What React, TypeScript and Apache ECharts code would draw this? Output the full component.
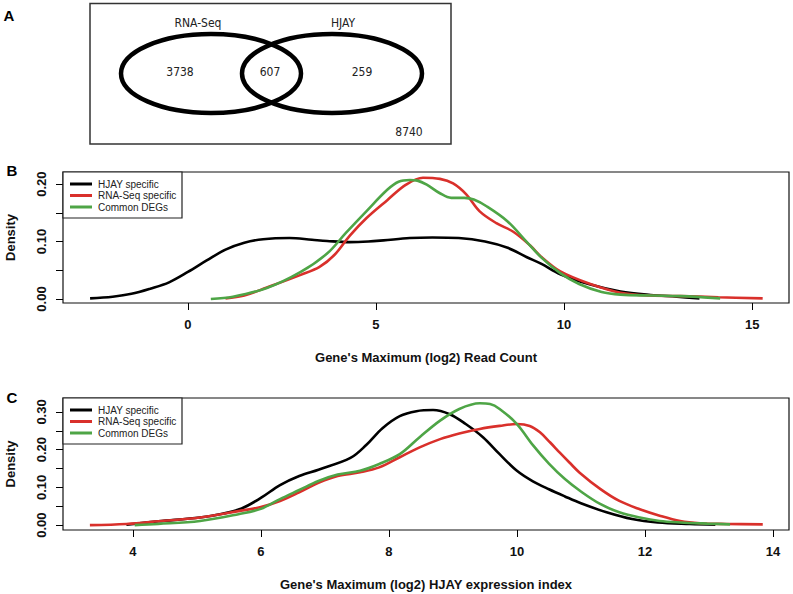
import React, { useEffect, useRef } from "react";
import * as echarts from "echarts";

// Venn counts
const vennSetNames = ["RNA-Seq", "HJAY"];
const vennRnaOnly = 3738;
const vennCommon = 607;
const vennHjayOnly = 259;
const vennNeither = 8740;

const seriesNames = ["HJAY specific", "RNA-Seq specific", "Common DEGs"];

// Panel B: density of gene's maximum (log2) read count
const hjayReadCount = [
  [-2.6, 0.001], [-2.0, 0.004], [-1.5, 0.009], [-1.0, 0.018], [-0.5, 0.029],
  [0.0, 0.047], [0.5, 0.067], [1.0, 0.086], [1.5, 0.098], [2.0, 0.104],
  [2.7, 0.106], [3.3, 0.103], [3.7, 0.101], [4.3, 0.099], [4.8, 0.1],
  [5.2, 0.102], [5.9, 0.106], [6.5, 0.107], [7.2, 0.106], [7.9, 0.1],
  [8.5, 0.089], [9.0, 0.073], [9.4, 0.061], [9.9, 0.043], [10.7, 0.025],
  [11.5, 0.013], [12.3, 0.007], [13.0, 0.004], [13.6, 0.001],
];
const rnaseqReadCount = [
  [1.0, 0.001], [1.5, 0.006], [2.1, 0.02], [3.0, 0.042], [3.5, 0.056],
  [3.9, 0.077], [4.3, 0.11], [4.75, 0.141], [5.3, 0.172], [5.8, 0.199],
  [6.25, 0.211], [6.7, 0.209], [7.05, 0.201], [7.4, 0.182], [7.75, 0.153],
  [8.2, 0.132], [8.65, 0.117], [9.1, 0.093], [9.4, 0.073], [9.9, 0.048],
  [10.7, 0.026], [11.5, 0.011], [12.3, 0.006], [13.1, 0.005], [14.1, 0.003],
  [15.28, 0.001],
];
const commonReadCount = [
  [0.61, 0.0], [1.2, 0.004], [2.1, 0.019], [3.0, 0.047], [3.7, 0.079],
  [4.2, 0.115], [4.75, 0.153], [5.3, 0.19], [5.6, 0.204], [5.9, 0.207],
  [6.1, 0.206], [6.35, 0.199], [6.7, 0.184], [7.0, 0.176], [7.35, 0.176],
  [7.6, 0.173], [7.95, 0.161], [8.5, 0.135], [9.0, 0.1], [9.4, 0.072],
  [9.9, 0.045], [10.4, 0.026], [11.0, 0.012], [11.5, 0.0075], [12.3, 0.006],
  [13.1, 0.005], [14.15, 0.001],
];

// Panel C: density of gene's maximum (log2) HJAY expression index
const hjayExpr = [
  [3.9, 0.001], [4.4, 0.01], [5.05, 0.02], [5.4, 0.03], [5.7, 0.044],
  [6.0, 0.072], [6.3, 0.106], [6.6, 0.13], [6.9, 0.147], [7.4, 0.178],
  [7.65, 0.213], [7.9, 0.257], [8.17, 0.289], [8.43, 0.302], [8.69, 0.305],
  [8.95, 0.294], [9.2, 0.268], [9.47, 0.233], [9.73, 0.188], [10.0, 0.144],
  [10.25, 0.116], [10.5, 0.095], [10.75, 0.076], [11.0, 0.058], [11.4, 0.034],
  [11.8, 0.016], [12.2, 0.007], [12.7, 0.003], [13.1, 0.001],
];
const rnaseqExpr = [
  [3.33, 0.0], [3.9, 0.003], [4.4, 0.01], [5.05, 0.02], [5.65, 0.037],
  [6.0, 0.048], [6.3, 0.064], [6.6, 0.087], [6.9, 0.112], [7.2, 0.13],
  [7.55, 0.14], [7.85, 0.153], [8.17, 0.18], [8.48, 0.206], [8.8, 0.228],
  [9.1, 0.243], [9.42, 0.255], [9.73, 0.263], [10.0, 0.268], [10.2, 0.263],
  [10.36, 0.246], [10.52, 0.219], [10.67, 0.192], [10.82, 0.166], [10.98, 0.139],
  [11.3, 0.096], [11.6, 0.064], [11.92, 0.042], [12.23, 0.025], [12.55, 0.011],
  [12.86, 0.005], [13.28, 0.003], [13.84, 0.002],
];
const commonExpr = [
  [4.03, 0.0], [4.4, 0.003], [5.05, 0.011], [5.65, 0.029], [6.0, 0.043],
  [6.3, 0.069], [6.6, 0.093], [6.9, 0.117], [7.2, 0.134], [7.55, 0.144],
  [7.85, 0.162], [8.17, 0.188], [8.48, 0.233], [8.8, 0.277], [9.1, 0.308],
  [9.42, 0.323], [9.58, 0.321], [9.73, 0.308], [10.0, 0.268], [10.25, 0.212],
  [10.5, 0.163], [10.75, 0.122], [11.0, 0.089], [11.3, 0.056], [11.6, 0.034],
  [11.92, 0.02], [12.23, 0.011], [12.55, 0.007], [12.97, 0.004], [13.33, 0.002],
];

const xTicksB = [0, 5, 10, 15];
const yTicksB = [0, 0.05, 0.1, 0.15, 0.2];
const yLabelsB = [0, 0.1, 0.2];
const xTicksC = [4, 6, 8, 10, 12, 14];
const yTicksC = [0, 0.05, 0.1, 0.15, 0.2, 0.25, 0.3];
const yLabelsC = [0, 0.1, 0.2, 0.3];

const xTitleB = "Gene's Maximum (log2) Read Count";
const xTitleC = "Gene's Maximum (log2) HJAY expression index";
const yTitle = "Density";

const colors = ["#000000", "#d9302b", "#4ea546"];
const FONT = "'Liberation Sans', Arial, Helvetica, sans-serif";
const NARROW = "'Liberation Sans Narrow', 'DejaVu Sans Condensed', 'Liberation Sans', sans-serif";

export default function App() {
  const ref = useRef<HTMLDivElement>(null);

  useEffect(() => {
    if (!ref.current) return;
    const chart = echarts.init(ref.current, null, { renderer: "svg" });

    const grids = [
      { left: 63, top: 172, width: 726, height: 131 },
      { left: 63, top: 398, width: 726, height: 132 },
    ];

    const xAxisBase = (gi: number, min: number, max: number, ticks: number[]) => ({
      type: "value",
      gridIndex: gi,
      min,
      max,
      position: "bottom",
      axisLine: { show: false, onZero: false },
      splitLine: { show: false },
      axisTick: {
        show: true,
        customValues: ticks,
        length: 7,
        lineStyle: { color: "#000", width: 1 },
      },
      axisLabel: {
        customValues: ticks,
        margin: 15,
        fontFamily: FONT,
        fontSize: 13,
        fontWeight: "bold",
        color: "#111",
        showMinLabel: true,
        showMaxLabel: true,
      },
    });
    const yAxisBase = (gi: number, min: number, max: number, ticks: number[], labels: number[]) => ({
      type: "value",
      gridIndex: gi,
      min,
      max,
      position: "left",
      axisLine: { show: false, onZero: false },
      splitLine: { show: false },
      axisTick: {
        show: true,
        customValues: ticks,
        length: 7,
        lineStyle: { color: "#000", width: 1 },
      },
      axisLabel: {
        customValues: labels,
        rotate: 90,
        margin: 15,
        fontFamily: FONT,
        fontSize: 13,
        fontWeight: "bold",
        color: "#111",
        formatter: (v: number) => v.toFixed(2),
      },
    });

    const mkSeries = (name: string, data: number[][], idx: number, color: string) => ({
      type: "line",
      name,
      data,
      xAxisIndex: idx,
      yAxisIndex: idx,
      showSymbol: false,
      smooth: 0.35,
      lineStyle: { color, width: 2.6 },
      itemStyle: { color },
      z: 3,
    });

    const legendGraphic = (top: number) => {
      const els: any[] = [
        {
          type: "rect",
          shape: { x: 63, y: top, width: 119, height: 46 },
          style: { fill: "#fff", stroke: "#222", lineWidth: 1.2 },
          z: 20,
        },
      ];
      seriesNames.forEach((n, i) => {
        const y = top + 12 + i * 11.5;
        els.push({
          type: "line",
          shape: { x1: 70, y1: y, x2: 92, y2: y },
          style: { stroke: colors[i], lineWidth: 3 },
          z: 21,
        });
        els.push({
          type: "text",
          x: 98,
          y,
          style: {
            text: n,
            fontFamily: FONT,
            fontSize: 10,
            fill: "#222",
            verticalAlign: "middle",
            align: "left",
          },
          z: 21,
        });
      });
      return els;
    };

    const vennText = (text: string, x: number, y: number) => ({
      type: "text",
      x,
      y,
      style: {
        text,
        fontFamily: NARROW,
        fontSize: 12,
        fill: "#222",
        align: "center",
        verticalAlign: "middle",
      },
    });

    const panelLabel = (text: string, x: number, y: number) => ({
      type: "text",
      x,
      y,
      style: {
        text,
        fontFamily: FONT,
        fontSize: 15,
        fontWeight: "bold",
        fill: "#000",
        align: "center",
        verticalAlign: "middle",
      },
    });

    const titleText = (text: string, x: number, y: number, rot: number) => ({
      type: "text",
      x,
      y,
      rotation: rot,
      style: {
        text,
        fontFamily: FONT,
        fontSize: 13,
        fontWeight: "bold",
        fill: "#111",
        align: "center",
        verticalAlign: "middle",
      },
    });

    const graphic: any[] = [
      // Panel A
      {
        type: "rect",
        shape: { x: 90, y: 3.5, width: 361, height: 140.5 },
        style: { fill: "none", stroke: "#333", lineWidth: 1.5 },
      },
      {
        type: "ellipse",
        shape: { cx: 211, cy: 73.5, rx: 90, ry: 39.5 },
        style: { fill: "none", stroke: "#000", lineWidth: 4.5 },
      },
      {
        type: "ellipse",
        shape: { cx: 332, cy: 73.5, rx: 90, ry: 39.5 },
        style: { fill: "none", stroke: "#000", lineWidth: 4.5 },
      },
      vennText(vennSetNames[0], 198, 23),
      vennText(vennSetNames[1], 343, 23),
      vennText(String(vennRnaOnly), 180, 72),
      vennText(String(vennCommon), 270, 72),
      vennText(String(vennHjayOnly), 362, 72),
      vennText(String(vennNeither), 409, 132),
      panelLabel("A", 9, 15),
      panelLabel("B", 12, 170),
      panelLabel("C", 12, 397),
      titleText(xTitleB, 426, 357, 0),
      titleText(xTitleC, 426, 584, 0),
      titleText(yTitle, 10, 237.5, Math.PI / 2),
      titleText(yTitle, 10, 464, Math.PI / 2),
      ...legendGraphic(172),
      ...legendGraphic(398),
    ];

    chart.setOption({
      animation: false,
      backgroundColor: "#fff",
      grid: grids.map((g) => ({
        ...g,
        show: true,
        borderColor: "#111",
        borderWidth: 1.2,
        backgroundColor: "transparent",
      })),
      xAxis: [
        xAxisBase(0, -3.32, 15.98, xTicksB),
        xAxisBase(1, 2.91, 14.25, xTicksC),
      ],
      yAxis: [
        yAxisBase(0, -0.007, 0.221, yTicksB, yLabelsB),
        yAxisBase(1, -0.013, 0.337, yTicksC, yLabelsC),
      ],
      series: [
        mkSeries(seriesNames[0], hjayReadCount, 0, colors[0]),
        mkSeries(seriesNames[1], rnaseqReadCount, 0, colors[1]),
        mkSeries(seriesNames[2], commonReadCount, 0, colors[2]),
        mkSeries(seriesNames[0], hjayExpr, 1, colors[0]),
        mkSeries(seriesNames[1], rnaseqExpr, 1, colors[1]),
        mkSeries(seriesNames[2], commonExpr, 1, colors[2]),
      ],
      graphic,
    });

    return () => chart.dispose();
  }, []);

  return (
    <div
      ref={ref}
      style={{ position: "absolute", left: 0, top: 0, width: 793, height: 594 }}
    />
  );
}
